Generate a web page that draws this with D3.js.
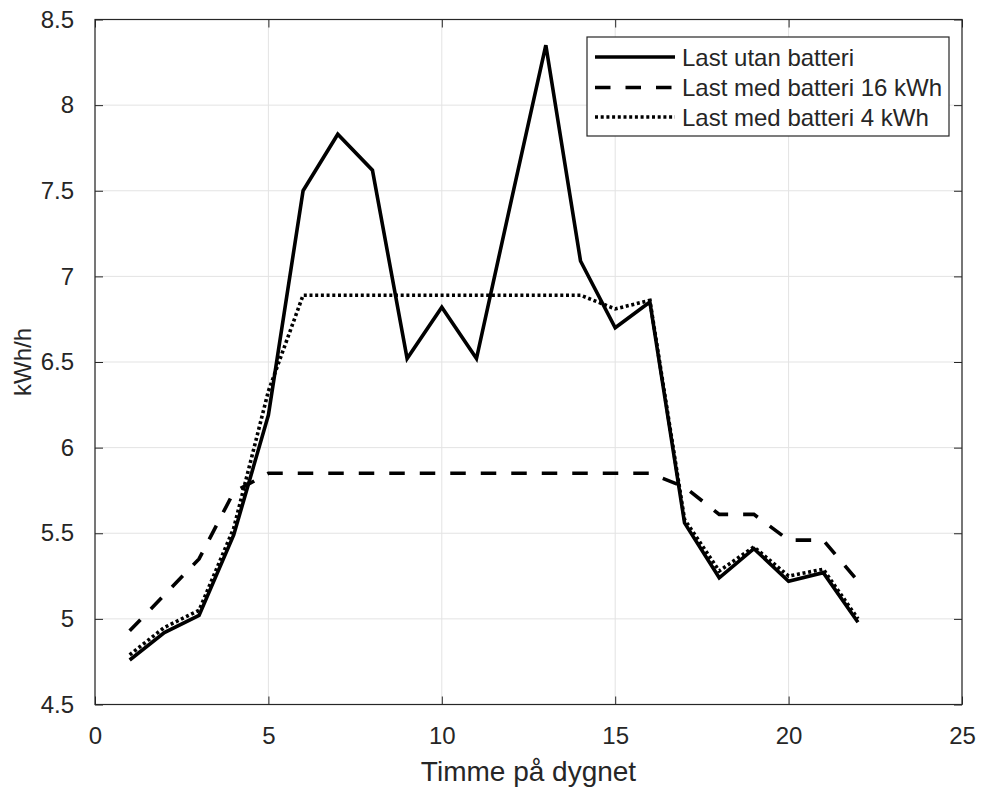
<!DOCTYPE html>
<html>
<head>
<meta charset="utf-8">
<script src="https://cdn.jsdelivr.net/npm/d3@7"></script>
<style>
  html, body { margin: 0; padding: 0; background: #fff; }
  svg { display: block; font-family: "Liberation Sans", Arial, sans-serif; }
</style>
</head>
<body>
<svg id="chart" width="981" height="787"></svg>
<script>
// Hour of day
const hours = [1, 2, 3, 4, 5, 6, 7, 8, 9, 10, 11, 12, 13, 14, 15, 16, 17, 18, 19, 20, 21, 22];

// Load without battery (kWh/h)
const loadNoBattery = [4.76, 4.92, 5.02, 5.49, 6.19, 7.50, 7.83, 7.62, 6.52, 6.82, 6.52,
                       7.44, 8.35, 7.09, 6.70, 6.85, 5.56, 5.24, 5.41, 5.22, 5.27, 4.98];

// Load with a 16 kWh battery
const loadBattery16 = [4.93, 5.14, 5.35, 5.74, 5.85, 5.85, 5.85, 5.85, 5.85, 5.85, 5.85,
                       5.85, 5.85, 5.85, 5.85, 5.85, 5.77, 5.61, 5.61, 5.46, 5.46, 5.22];

// Load with a 4 kWh battery
const loadBattery4 = [4.79, 4.95, 5.05, 5.53, 6.33, 6.89, 6.89, 6.89, 6.89, 6.89, 6.89,
                      6.89, 6.89, 6.89, 6.81, 6.86, 5.58, 5.28, 5.42, 5.25, 5.29, 5.00];

const seriesNames = ["Last utan batteri", "Last med batteri 16 kWh", "Last med batteri 4 kWh"];
const xTicks = [0, 5, 10, 15, 20, 25];
const yTicks = [4.5, 5, 5.5, 6, 6.5, 7, 7.5, 8, 8.5];
const xTitle = "Timme på dygnet";
const yTitle = "kWh/h";

const W = 981, H = 787;
const m = { left: 95, top: 19.5, right: 981 - 962, bottom: 787 - 704.5 };
const iw = W - m.left - m.right, ih = H - m.top - m.bottom;
const ink = "#262626";

const svg = d3.select("#chart");
const g = svg.append("g").attr("transform", `translate(${m.left},${m.top})`);

const x = d3.scaleLinear().domain([0, 25]).range([0, iw]);
const y = d3.scaleLinear().domain([4.5, 8.5]).range([ih, 0]);

// grid
g.append("g").selectAll("line.gx").data(xTicks).join("line")
  .attr("x1", d => x(d)).attr("x2", d => x(d)).attr("y1", 0).attr("y2", ih)
  .attr("stroke", "#e3e3e3").attr("stroke-width", 1);
g.append("g").selectAll("line.gy").data(yTicks).join("line")
  .attr("x1", 0).attr("x2", iw).attr("y1", d => y(d)).attr("y2", d => y(d))
  .attr("stroke", "#e3e3e3").attr("stroke-width", 1);

// axes with inward ticks on all four sides
const tickLen = 8;
const styleAxis = sel => {
  sel.select(".domain").remove();
  sel.selectAll(".tick line").attr("stroke", ink).attr("stroke-width", 1);
  sel.selectAll(".tick text").attr("fill", ink).style("font-size", "24px")
    .style("font-family", "'Liberation Sans', Arial, sans-serif");
};
g.append("g").attr("transform", `translate(0,${ih})`)
  .call(d3.axisBottom(x).tickValues(xTicks).tickFormat(d3.format("d"))
        .tickSizeInner(-tickLen).tickSizeOuter(0).tickPadding(22))
  .call(styleAxis);
g.append("g").call(d3.axisTop(x).tickValues(xTicks).tickFormat("")
        .tickSizeInner(-tickLen).tickSizeOuter(0))
  .call(styleAxis);
g.append("g")
  .call(d3.axisLeft(y).tickValues(yTicks).tickFormat(d => d3.format("")(d))
        .tickSizeInner(-tickLen).tickSizeOuter(0).tickPadding(21))
  .call(styleAxis);
g.append("g").attr("transform", `translate(${iw},0)`)
  .call(d3.axisRight(y).tickValues(yTicks).tickFormat("")
        .tickSizeInner(-tickLen).tickSizeOuter(0))
  .call(styleAxis);

// box
g.append("rect").attr("x", 0).attr("y", 0).attr("width", iw).attr("height", ih)
  .attr("fill", "none").attr("stroke", ink).attr("stroke-width", 1.2);

// series
const styles = [
  { dash: null, cap: "butt" },
  { dash: "15.5 15", cap: "butt" },
  { dash: "3 2.7", cap: "butt" }
];
const series = [loadNoBattery, loadBattery16, loadBattery4];
const line = d3.line().x((d, i) => x(hours[i])).y(d => y(d));

series.forEach((vals, k) => {
  g.append("path").datum(vals)
    .attr("d", line)
    .attr("fill", "none")
    .attr("stroke", "#000")
    .attr("stroke-width", 3.6)
    .attr("stroke-linejoin", "miter")
    .attr("stroke-linecap", styles[k].cap)
    .attr("stroke-dasharray", styles[k].dash);
});

// axis titles
svg.append("text")
  .attr("x", m.left + iw / 2).attr("y", 781)
  .attr("text-anchor", "middle").attr("fill", ink)
  .style("font-size", "28px").text(xTitle);
svg.append("text")
  .attr("transform", `translate(31,${m.top + ih / 2}) rotate(-90)`)
  .attr("text-anchor", "middle").attr("fill", ink)
  .style("font-size", "24px").text(yTitle);

// legend
const lg = svg.append("g").attr("transform", "translate(587,37)");
lg.append("rect").attr("x", 0).attr("y", 0).attr("width", 362).attr("height", 99)
  .attr("fill", "#fff").attr("stroke", ink).attr("stroke-width", 1.2);
const rowsY = [20, 50.5, 80];
seriesNames.forEach((name, k) => {
  lg.append("line")
    .attr("x1", 8).attr("x2", 88).attr("y1", rowsY[k]).attr("y2", rowsY[k])
    .attr("stroke", "#000").attr("stroke-width", 3.6)
    .attr("stroke-dasharray", styles[k].dash);
  lg.append("text")
    .attr("x", 95).attr("y", rowsY[k] + 8.5)
    .attr("fill", ink).style("font-size", "24px").text(name);
});
</script>
</body>
</html>
